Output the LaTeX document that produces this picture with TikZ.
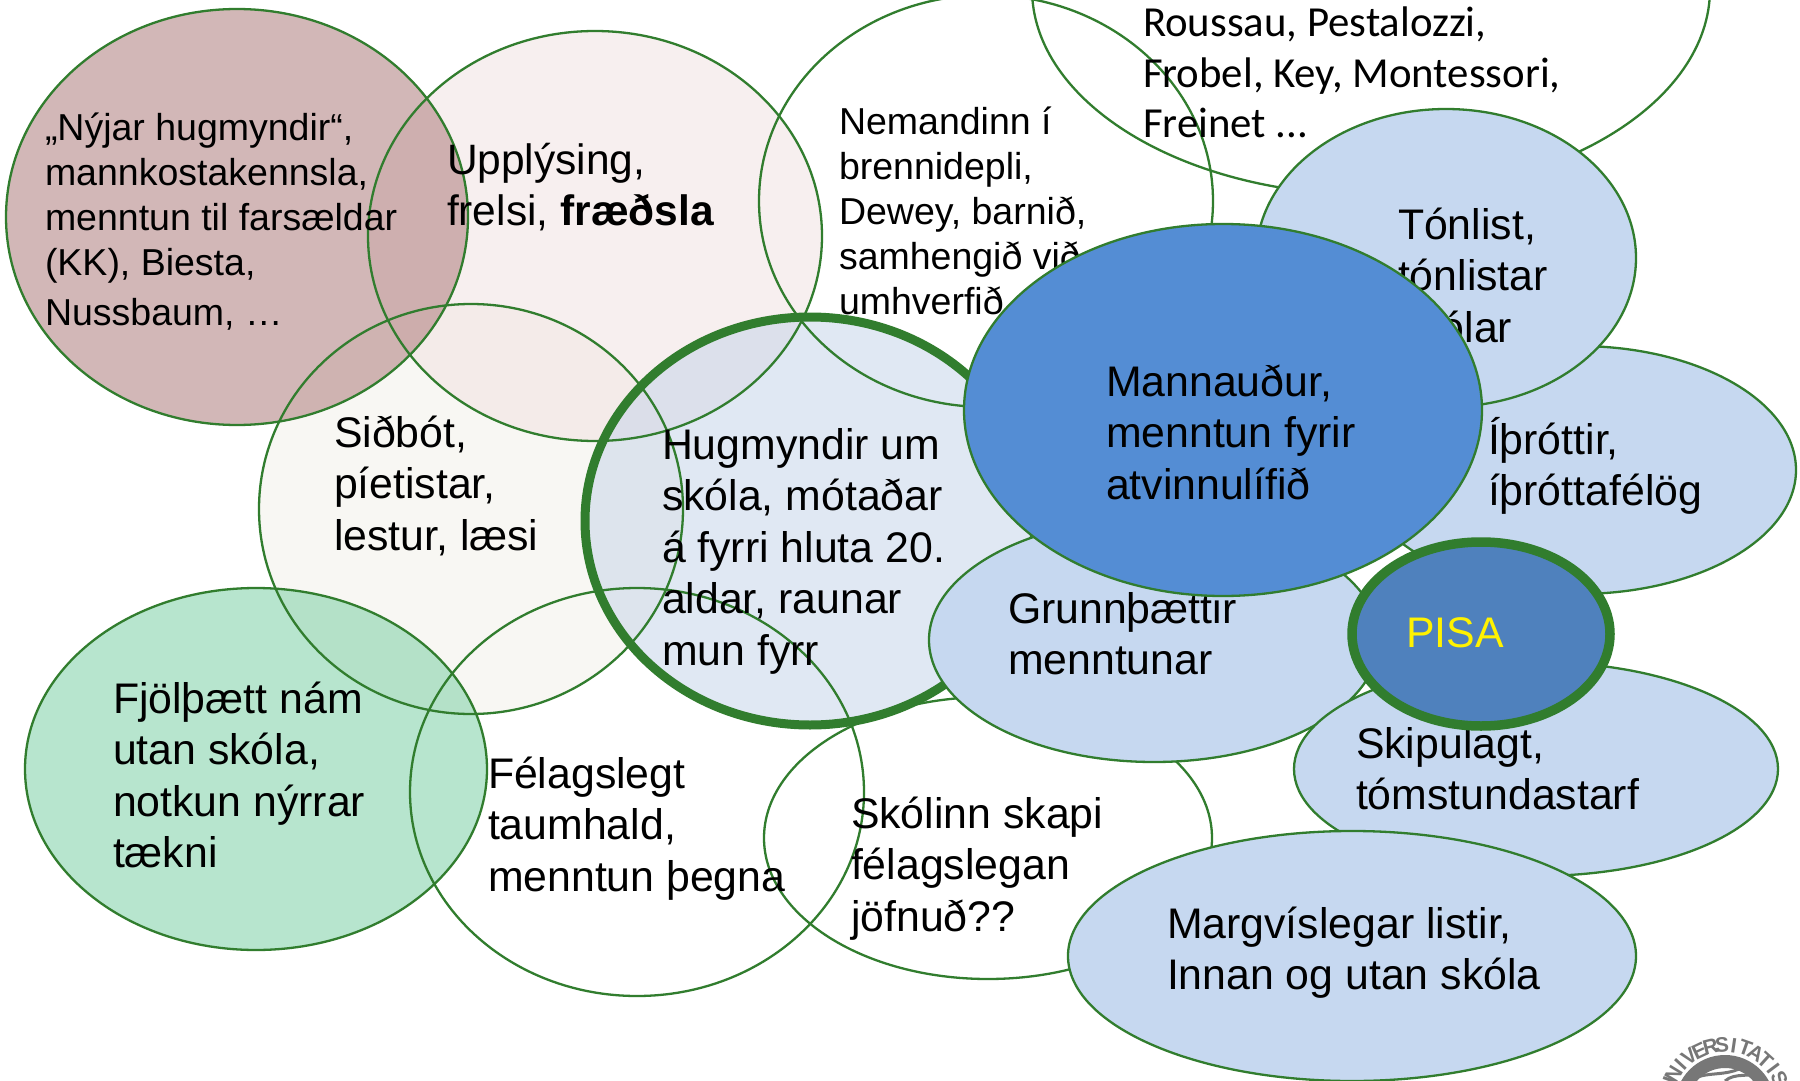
\documentclass[tikz,border=0pt]{standalone}
\usepackage{fontspec}
\setmainfont{Liberation Sans}
\newfontfamily\carl{Carlito}
\definecolor{edge}{HTML}{317D2E}
\definecolor{palebl}{HTML}{C6D8F0}
\definecolor{midbl}{HTML}{548DD4}
\definecolor{pisabl}{HTML}{4F81BD}
\definecolor{sealgr}{HTML}{777777}
\definecolor{brownf}{HTML}{A77171}
\definecolor{greenf}{HTML}{71CD9F}
\definecolor{hugf}{HTML}{C3D3E9}
\definecolor{uppf}{HTML}{F1E1E1}
\definecolor{sidf}{HTML}{F3F1E9}
\newcommand{\blk}[1]{\begin{tabular}[t]{@{}l@{}}#1\end{tabular}}
\newcommand{\fs}[2]{\fontsize{#1}{#2}\selectfont}
\tikzset{
  ring/.style={draw=edge,line width=2.3pt},
  heavy/.style={draw=edge,line width=9pt},
  lbl/.style={anchor=base west,inner sep=0pt,outer sep=0pt,text=black},
  big/.style={lbl,font=\fs{42.8}{51.5}},
  small/.style={lbl,font=\fs{37.5}{45}},
  cal/.style={lbl,font=\carl\fs{42.8}{50.5}},
  sealtxt/.style={anchor=base,inner sep=0pt,text=sealgr,font=\bfseries\fs{21}{21}},
  tint/.style={fill=#1,fill opacity=.5},
}
\begin{document}
\begin{tikzpicture}[x=1pt,y=-1pt]
\useasboundingbox (0,0) rectangle (1800,1081);
\clip (0,0) rectangle (1800,1081);
\fill[white] (0,0) rectangle (1800,1081);

% seal
\coordinate (seal) at (1725,1105);
\fill[sealgr,even odd rule] (seal) circle[radius=50] (seal) circle[radius=37];
\draw[sealgr,line width=3pt] (1690,1081) .. controls (1705,1070) and (1725,1078) .. (1745,1066) (1725,1081) .. controls (1735,1072) and (1750,1078) .. (1760,1072);
\foreach \i/\c in {0/U,1/N,2/I,3/V,4/E,5/R,6/S,7/I,8/T,9/A,10/T,11/I,12/S}{
  \pgfmathsetmacro{\a}{-70+\i*11.2}
  \node[sealtxt,rotate=-\a] (seal\i) at ({1725+53*sin(\a)},{1105-53*cos(\a)}) {\c};
}

% translucent fills
\fill[tint=sidf] (471,509) ellipse[x radius=212,y radius=205];
\fill[tint=uppf] (595,236) ellipse[x radius=227,y radius=205];
\fill[tint=brownf] (237,217) ellipse[x radius=231,y radius=208];
\fill[tint=greenf] (256,769) ellipse[x radius=231,y radius=181];
\fill[tint=hugf] (810,521) ellipse[x radius=225,y radius=204];

% outlines
\draw[ring] (1371,-11) ellipse[x radius=339,y radius=206];
\draw[ring] (986,201) ellipse[x radius=227,y radius=206];
\draw[ring] (471,509) ellipse[x radius=212,y radius=205];
\draw[ring] (595,236) ellipse[x radius=227,y radius=205];
\draw[ring] (237,217) ellipse[x radius=231,y radius=208];
\draw[ring] (256,769) ellipse[x radius=231,y radius=181];
\draw[heavy] (810,521) ellipse[x radius=225,y radius=204];
\draw[ring] (637,792) ellipse[x radius=227,y radius=204];
\draw[ring] (988,838) ellipse[x radius=224,y radius=141];

% texts of the open group
\node[cal] (roussau) at (1143,37) {\blk{Roussau, Pestalozzi,\\Frobel, Key, Montessori,\\Freinet ...}};
\node[small] (nemandinn) at (839,134) {\blk{Nemandinn í\\brennidepli,\\Dewey, barnið,\\samhengið við\\umhverfið}};
\node[big] (sidbot) at (334,447) {\blk{Siðbót,\\píetistar,\\lestur, læsi}};
\node[big,font=\fs{42.5}{51.2}] (upplysing) at (447,174) {\blk{Upplýsing,\\frelsi, \textbf{fræðsla}}};
\node[small] (nyjar) at (45,140) {\blk{„Nýjar hugmyndir“,\\mannkostakennsla,\\menntun til farsældar\\(KK), Biesta,\\[5pt]Nussbaum, …}};
\node[big] (fjol) at (113,713) {\blk{Fjölþætt nám\\utan skóla,\\notkun nýrrar\\tækni}};
\node[big] (hug) at (662,459) {\blk{Hugmyndir um\\skóla, mótaðar\\á fyrri hluta 20.\\aldar, raunar\\mun fyrr}};
\node[big] (fel) at (488,788) {\blk{Félagslegt\\taumhald,\\menntun þegna}};
\node[big] (skolinn) at (851,828) {\blk{Skólinn skapi\\félagslegan\\jöfnuð??}};

% blue group
\draw[ring,fill=palebl] (1154,640) ellipse[x radius=225,y radius=122];
\node[big] (grunn) at (1008,623) {\blk{Grunnþættir\\menntunar}};
\draw[ring,fill=palebl] (1578,470) ellipse[x radius=218,y radius=124];
\node[big] (ithrottir) at (1488,454) {\blk{Íþróttir,\\íþróttafélög}};
\draw[ring,fill=palebl] (1446,258) ellipse[x radius=190,y radius=149];
\node[big] (tonlist) at (1398,239) {\blk{Tónlist,\\tónlistar\\skólar}};
\draw[ring,fill=midbl] (1223,410) ellipse[x radius=259,y radius=186];
\node[big] (mann) at (1106,396) {\blk{Mannauður,\\menntun fyrir\\atvinnulífið}};
\draw[ring,fill=palebl] (1536,769) ellipse[x radius=242,y radius=107];
\node[big] (skipulagt) at (1356,758) {\blk{Skipulagt,\\tómstundastarf}};
\draw[ring,fill=palebl] (1352,956) ellipse[x radius=284,y radius=125];
\node[big] (marg) at (1167,938) {\blk{Margvíslegar listir,\\Innan og utan skóla}};
\draw[heavy,fill=pisabl,line width=9.5pt] (1481,634) ellipse[x radius=129,y radius=92];
\node[big,text=yellow] (pisa) at (1406,647) {PISA};
\end{tikzpicture}
\end{document}
